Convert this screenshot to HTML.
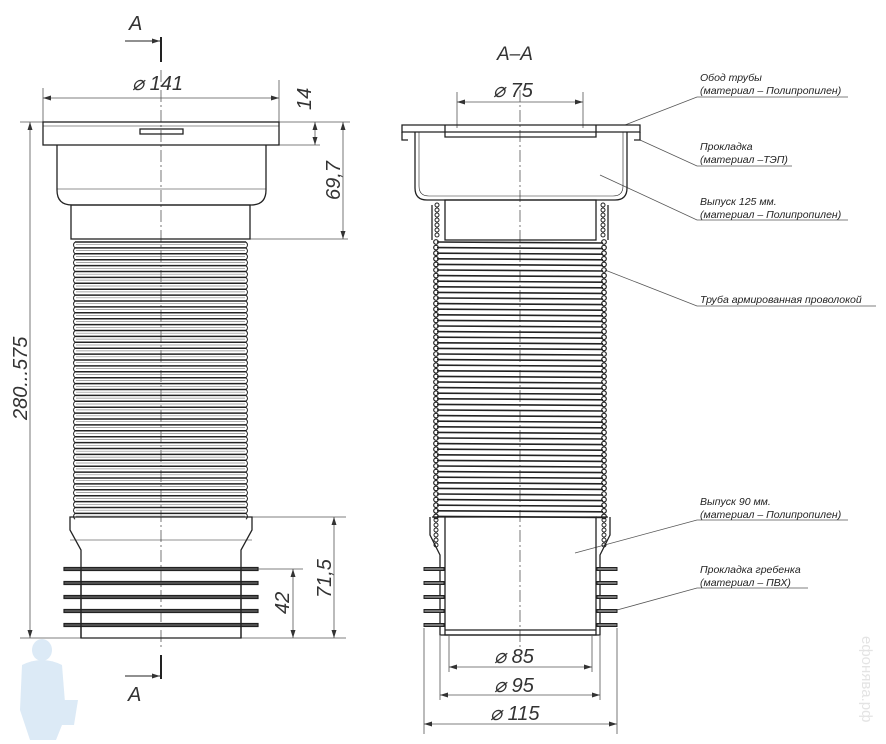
<!DOCTYPE html>
<html><head><meta charset="utf-8"><style>
html,body{margin:0;padding:0;background:#fff;width:886px;height:744px;overflow:hidden}
svg{display:block}
.d{font-family:"Liberation Sans",sans-serif;font-style:italic;font-size:20px;fill:#333}
.l{font-family:"Liberation Sans",sans-serif;font-style:italic;font-size:10.5px;fill:#222}
</style></head><body>
<svg id="s" width="886" height="744" viewBox="0 0 886 744" xmlns="http://www.w3.org/2000/svg">
<defs><marker id="a" markerWidth="8" markerHeight="6" refX="8" refY="3" orient="auto-start-reverse" markerUnits="userSpaceOnUse"><path d="M0,0.5 L8,3 L0,5.5z" fill="#333"/></marker></defs>
<g stroke="#555" stroke-width="0.8" fill="none">
<line x1="43" y1="88" x2="43" y2="122"/><line x1="279" y1="80" x2="279" y2="122"/>
<line x1="43" y1="98" x2="279" y2="98" marker-start="url(#a)" marker-end="url(#a)"/>
<line x1="20" y1="122" x2="350" y2="122"/><line x1="279" y1="145" x2="320" y2="145"/>
<line x1="315" y1="122" x2="315" y2="145" marker-start="url(#a)" marker-end="url(#a)"/>
<line x1="250" y1="239" x2="348" y2="239"/>
<line x1="343" y1="122" x2="343" y2="239" marker-start="url(#a)" marker-end="url(#a)"/>
<line x1="30" y1="122" x2="30" y2="638" marker-start="url(#a)" marker-end="url(#a)"/>
<line x1="20" y1="638" x2="346" y2="638"/>
<line x1="252" y1="517" x2="346" y2="517"/><line x1="258" y1="569" x2="303" y2="569"/>
<line x1="334" y1="517" x2="334" y2="638" marker-start="url(#a)" marker-end="url(#a)"/>
<line x1="293" y1="569" x2="293" y2="638" marker-start="url(#a)" marker-end="url(#a)"/>
<line x1="161" y1="70" x2="161" y2="650" stroke-dasharray="12,3,2,3"/>
<line x1="520" y1="90" x2="520" y2="650" stroke-dasharray="12,3,2,3"/>
<line x1="457" y1="92" x2="457" y2="128"/><line x1="583" y1="92" x2="583" y2="128"/>
<line x1="457" y1="102" x2="583" y2="102" marker-start="url(#a)" marker-end="url(#a)"/>
<line x1="449" y1="636" x2="449" y2="672"/><line x1="592" y1="636" x2="592" y2="672"/>
<line x1="449" y1="667" x2="592" y2="667" marker-start="url(#a)" marker-end="url(#a)"/>
<line x1="440" y1="636" x2="440" y2="700"/><line x1="600" y1="636" x2="600" y2="700"/>
<line x1="440" y1="695" x2="600" y2="695" marker-start="url(#a)" marker-end="url(#a)"/>
<line x1="424" y1="628" x2="424" y2="734"/><line x1="617" y1="628" x2="617" y2="734"/>
<line x1="424" y1="724" x2="617" y2="724" marker-start="url(#a)" marker-end="url(#a)"/>
<polyline points="625,125 697,97 848,97"/>
<polyline points="640,140 697,166 792,166"/>
<polyline points="600,175 697,220 848,220"/>
<polyline points="605,270 697,306 876,306"/>
<polyline points="575,553 697,520 848,520"/>
<polyline points="617,610 697,588 808,588"/>
</g>
<g stroke="#222" fill="none">
<line x1="161" y1="37" x2="161" y2="62" stroke-width="2"/>
<line x1="125" y1="41" x2="160" y2="41" stroke-width="1" marker-end="url(#a)"/>
<line x1="161" y1="655" x2="161" y2="679" stroke-width="2"/>
<line x1="125" y1="676" x2="160" y2="676" stroke-width="1" marker-end="url(#a)"/>
</g>
<g id="left" stroke="#222" stroke-width="1.3" fill="none">
<rect x="43" y="122" width="236" height="23"/>
<line x1="43" y1="126" x2="279" y2="126" stroke-width="0.6"/>
<rect x="140" y="129" width="43" height="5"/>
<path d="M57,145 V190 Q57,205 72,205 H251 Q266,205 266,190 V145"/>
<line x1="57" y1="189" x2="266" y2="189" stroke-width="0.5"/>
<rect x="71" y="205" width="179" height="34"/>
<path d="M70,517 H252 V530 L241,550 V638 H81 V550 L70,530 Z"/>
<line x1="70" y1="540" x2="252" y2="540" stroke-width="0.5"/>
</g>
<g id="right" stroke="#222" stroke-width="1.3" fill="none">
<path d="M402,125 H640 V132 H402 Z"/>
<path d="M402,132 V140 H408 M640,132 V140 H634"/>
<path d="M445,125 V137 H596 V125"/>
<path d="M415,132 V188 Q415,200 427,200 H615 Q627,200 627,188 V132"/>
<path d="M419,132 V186 Q419,196 429,196 H613 Q623,196 623,186 V132" stroke-width="0.6"/>
<rect x="445" y="200" width="151" height="40"/>
<path d="M432,205 V240 M608,205 V240"/>
<path d="M432,517 H445 M596,517 H608"/>
<path d="M430,517 V535 L440,555 V635 H600 V555 L610,535 V517"/>
<rect x="445" y="517" width="151" height="118"/>
<line x1="445" y1="630" x2="596" y2="630"/>
</g>
<g id="gen"></g>
<text class="d" x="129" y="30">A</text>
<text class="d" x="128" y="701">A</text>
<text class="d" x="497" y="60" style="font-size:19px">A–A</text>
<text class="d" x="132" y="90">⌀ 141</text>
<text class="d" x="493" y="97">⌀ 75</text>
<text class="d" x="494" y="663">⌀ 85</text>
<text class="d" x="494" y="692">⌀ 95</text>
<text class="d" x="490" y="720">⌀ 115</text>
<text class="d" transform="translate(311,110) rotate(-90)">14</text>
<text class="d" transform="translate(340,200) rotate(-90)">69,7</text>
<text class="d" transform="translate(27,420) rotate(-90)">280...575</text>
<text class="d" transform="translate(331,598) rotate(-90)">71,5</text>
<text class="d" transform="translate(289,614) rotate(-90)">42</text>
<g class="l">
<text x="700" y="81">Обод трубы</text><text x="700" y="94">(материал – Полипропилен)</text>
<text x="700" y="150">Прокладка</text><text x="700" y="163">(материал –ТЭП)</text>
<text x="700" y="205">Выпуск 125 мм.</text><text x="700" y="218">(материал – Полипропилен)</text>
<text x="700" y="303">Труба армированная проволокой</text>
<text x="700" y="505">Выпуск 90 мм.</text><text x="700" y="518">(материал – Полипропилен)</text>
<text x="700" y="573">Прокладка гребенка</text><text x="700" y="586">(материал – ПВХ)</text>
</g>
<text transform="translate(862,636) rotate(90)" style="font-family:'Liberation Sans',sans-serif;font-size:15px;fill:#e4e4e4">ефонява.рф</text>
<g fill="#dceaf6">
<ellipse cx="42" cy="650" rx="10" ry="11"/>
<path d="M22,665 Q42,655 62,665 L66,715 L56,740 L30,740 L20,710 Z"/>
<path d="M50,700 H78 L74,725 H54 Z"/>
</g>
</svg>
<script>
var g=document.getElementById('gen'),h="";
for(var y=242;y<515;y+=5.9){
 h+='<path d="M75,'+y+' Q72,'+(y+3)+' 75,'+(y+5.9)+' M246,'+y+' Q249,'+(y+3)+' 246,'+(y+5.9)+'" stroke="#222" fill="none" stroke-width="1"/>';
 h+='<line x1="75" y1="'+y+'" x2="246" y2="'+y+'" stroke="#222" stroke-width="1.5"/>';
 h+='<line x1="76" y1="'+(y+2.7)+'" x2="245" y2="'+(y+2.7)+'" stroke="#888" stroke-width="0.7"/>';
}
for(var y=242;y<517;y+=5.6){
 h+='<line x1="437" y1="'+y+'" x2="603" y2="'+(y+1)+'" stroke="#222" stroke-width="1.6"/>';
 h+='<circle cx="436" cy="'+y+'" r="2.3" stroke="#222" fill="none" stroke-width="1.2"/>';
 h+='<circle cx="604" cy="'+y+'" r="2.3" stroke="#222" fill="none" stroke-width="1.2"/>';
}
for(var y=205;y<240;y+=5){h+='<circle cx="437" cy="'+y+'" r="2" stroke="#222" fill="none"/><circle cx="603" cy="'+y+'" r="2" stroke="#222" fill="none"/>';}
for(var y=520;y<550;y+=5){h+='<circle cx="436" cy="'+y+'" r="2" stroke="#222" fill="none"/><circle cx="604" cy="'+y+'" r="2" stroke="#222" fill="none"/>';}
[569,583,597,611,625].forEach(function(y){
 h+='<rect x="64" y="'+(y-1.5)+'" width="194" height="3" fill="#555" stroke="#222" stroke-width="1.2"/>';
 h+='<rect x="424" y="'+(y-1.5)+'" width="20" height="3" fill="#777" stroke="#222" stroke-width="1"/>';
 h+='<rect x="597" y="'+(y-1.5)+'" width="20" height="3" fill="#777" stroke="#222" stroke-width="1"/>';
});
h+='<line x1="81" y1="567" x2="81" y2="638" stroke="#222" stroke-width="1.3"/><line x1="241" y1="567" x2="241" y2="638" stroke="#222" stroke-width="1.3"/>';
g.innerHTML=h;
</script>
</body></html>
